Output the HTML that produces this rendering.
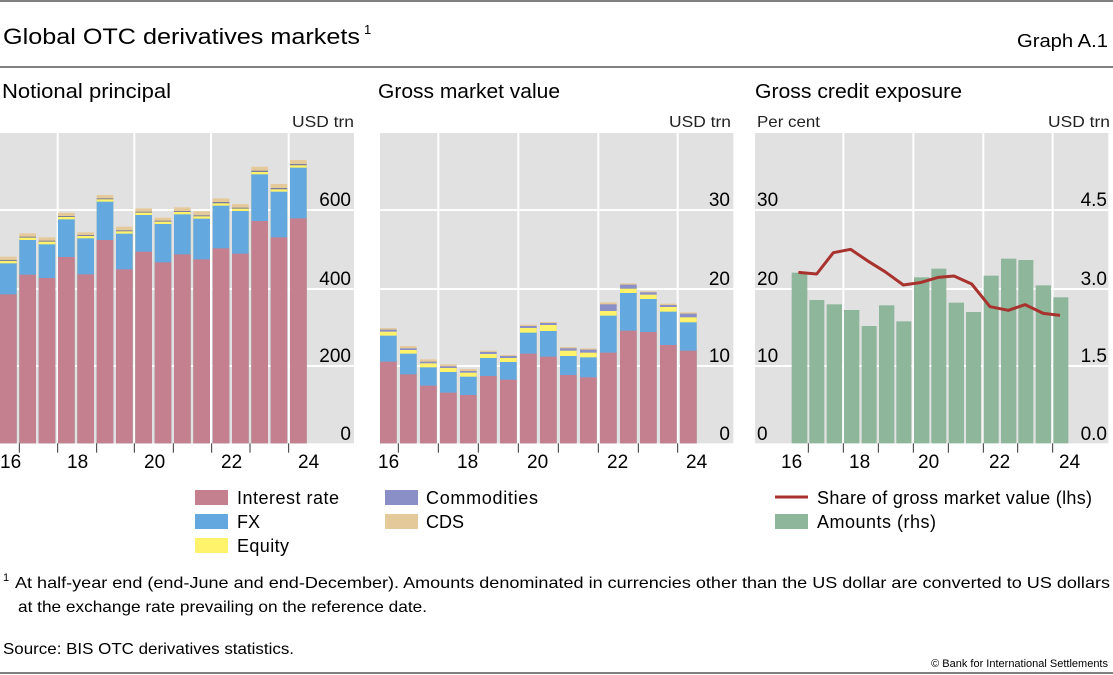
<!DOCTYPE html>
<html><head><meta charset="utf-8"><style>
body{margin:0;background:#fff;}
svg{display:block;font-family:"Liberation Sans","DejaVu Sans",sans-serif;}
</style></head><body>
<svg width="1113" height="675" viewBox="0 0 1113 675">
<line x1="0" y1="1" x2="1113" y2="1" stroke="#000" stroke-width="1"/>
<text x="3" y="44" font-size="22" fill="#000"><tspan textLength="357" lengthAdjust="spacingAndGlyphs">Global OTC derivatives markets</tspan><tspan font-size="13" dy="-10" dx="4">1</tspan></text>
<text x="1017" y="47" font-size="18" textLength="91" lengthAdjust="spacingAndGlyphs">Graph A.1</text>
<line x1="0" y1="67" x2="1113" y2="67" stroke="#000" stroke-width="1"/>
<text x="2" y="98" font-size="20" textLength="169" lengthAdjust="spacingAndGlyphs">Notional principal</text>
<text x="378" y="98" font-size="20" textLength="182" lengthAdjust="spacingAndGlyphs">Gross market value</text>
<text x="755" y="98" font-size="20" textLength="207" lengthAdjust="spacingAndGlyphs">Gross credit exposure</text>
<text x="292" y="127" font-size="16" fill="#222" textLength="62" lengthAdjust="spacingAndGlyphs">USD trn</text>
<text x="669" y="127" font-size="16" fill="#222" textLength="62" lengthAdjust="spacingAndGlyphs">USD trn</text>
<text x="757" y="127" font-size="16" fill="#222" textLength="63" lengthAdjust="spacingAndGlyphs">Per cent</text>
<text x="1048" y="127" font-size="16" fill="#222" textLength="62" lengthAdjust="spacingAndGlyphs">USD trn</text>

<!-- Panel 1 -->
<g transform="translate(0,130) scale(0.33333)">
<rect x="0" y="9" width="1062" height="931" fill="#e1e1e1"/>
<g stroke="#fff" stroke-width="6"><line x1="0" y1="240" x2="1062" y2="240"/><line x1="0" y1="477" x2="1062" y2="477"/><line x1="0" y1="708" x2="1062" y2="708"/>
<line x1="173" y1="9" x2="173" y2="940"/><line x1="403" y1="9" x2="403" y2="940"/><line x1="633" y1="9" x2="633" y2="940"/><line x1="866" y1="9" x2="866" y2="940"/></g>
<g fill="#e4c99a">
<rect x="0" y="380" width="50" height="560"/><rect x="58" y="310" width="50" height="630"/><rect x="116" y="322" width="50" height="618"/><rect x="174" y="248" width="50" height="692"/><rect x="232" y="307" width="50" height="633"/><rect x="290" y="195" width="50" height="745"/><rect x="348" y="290" width="50" height="650"/><rect x="406" y="235" width="50" height="705"/><rect x="464" y="263" width="50" height="677"/><rect x="522" y="232" width="50" height="708"/><rect x="580" y="244" width="50" height="696"/><rect x="638" y="205" width="50" height="735"/><rect x="696" y="222" width="50" height="718"/><rect x="754" y="110" width="50" height="830"/><rect x="812" y="162" width="50" height="778"/><rect x="870" y="90" width="50" height="850"/></g>
<g fill="#7b7f9e">
<rect x="0" y="390" width="50" height="550"/><rect x="58" y="320" width="50" height="620"/><rect x="116" y="332" width="50" height="608"/><rect x="174" y="258" width="50" height="682"/><rect x="232" y="315" width="50" height="625"/><rect x="290" y="205" width="50" height="735"/><rect x="348" y="301" width="50" height="639"/><rect x="406" y="245" width="50" height="695"/><rect x="464" y="272" width="50" height="668"/><rect x="522" y="243" width="50" height="697"/><rect x="580" y="256" width="50" height="684"/><rect x="638" y="216" width="50" height="724"/><rect x="696" y="233" width="50" height="707"/><rect x="754" y="122" width="50" height="818"/><rect x="812" y="174" width="50" height="766"/><rect x="870" y="102" width="50" height="838"/></g>
<g fill="#fff36b">
<rect x="0" y="393" width="50" height="547"/><rect x="58" y="323" width="50" height="617"/><rect x="116" y="335" width="50" height="605"/><rect x="174" y="261" width="50" height="679"/><rect x="232" y="318" width="50" height="622"/><rect x="290" y="208" width="50" height="732"/><rect x="348" y="304" width="50" height="636"/><rect x="406" y="248" width="50" height="692"/><rect x="464" y="275" width="50" height="665"/><rect x="522" y="246" width="50" height="694"/><rect x="580" y="259" width="50" height="681"/><rect x="638" y="220" width="50" height="720"/><rect x="696" y="236" width="50" height="704"/><rect x="754" y="126" width="50" height="814"/><rect x="812" y="178" width="50" height="762"/><rect x="870" y="106" width="50" height="834"/></g>
<g fill="#63a9e0">
<rect x="0" y="400" width="50" height="540"/><rect x="58" y="330" width="50" height="610"/><rect x="116" y="343" width="50" height="597"/><rect x="174" y="268" width="50" height="672"/><rect x="232" y="325" width="50" height="615"/><rect x="290" y="215" width="50" height="725"/><rect x="348" y="311" width="50" height="629"/><rect x="406" y="255" width="50" height="685"/><rect x="464" y="282" width="50" height="658"/><rect x="522" y="253" width="50" height="687"/><rect x="580" y="266" width="50" height="674"/><rect x="638" y="227" width="50" height="713"/><rect x="696" y="243" width="50" height="697"/><rect x="754" y="133" width="50" height="807"/><rect x="812" y="185" width="50" height="755"/><rect x="870" y="113" width="50" height="827"/></g>
<g fill="#c4808f">
<rect x="0" y="493" width="50" height="447"/><rect x="58" y="434" width="50" height="506"/><rect x="116" y="444" width="50" height="496"/><rect x="174" y="381" width="50" height="559"/><rect x="232" y="433" width="50" height="507"/><rect x="290" y="330" width="50" height="610"/><rect x="348" y="418" width="50" height="522"/><rect x="406" y="365" width="50" height="575"/><rect x="464" y="397" width="50" height="543"/><rect x="522" y="373" width="50" height="567"/><rect x="580" y="388" width="50" height="552"/><rect x="638" y="355" width="50" height="585"/><rect x="696" y="371" width="50" height="569"/><rect x="754" y="273" width="50" height="667"/><rect x="812" y="322" width="50" height="618"/><rect x="870" y="265" width="50" height="675"/></g>
<g stroke="#333" stroke-width="3"><line x1="58" y1="940" x2="58" y2="968"/><line x1="173" y1="940" x2="173" y2="968"/><line x1="290" y1="940" x2="290" y2="968"/><line x1="403" y1="940" x2="403" y2="968"/><line x1="520" y1="940" x2="520" y2="968"/><line x1="635" y1="940" x2="635" y2="968"/><line x1="750" y1="940" x2="750" y2="968"/><line x1="866" y1="940" x2="866" y2="968"/></g>
</g>
<g font-size="19" fill="#000" text-anchor="end">
<text x="351" y="206">600</text><text x="351" y="285">400</text><text x="351" y="362">200</text><text x="351" y="440">0</text></g>
<g font-size="19"><text x="0" y="468">16</text><text x="67" y="468">18</text><text x="144" y="468">20</text><text x="221" y="468">22</text><text x="298" y="468">24</text></g>

<!-- Panel 2 -->
<g transform="translate(375,130) scale(0.33333)">
<rect x="15" y="9" width="1060" height="931" fill="#e1e1e1"/>
<g stroke="#fff" stroke-width="6"><line x1="15" y1="240" x2="1075" y2="240"/><line x1="15" y1="477" x2="1075" y2="477"/><line x1="15" y1="708" x2="1075" y2="708"/>
<line x1="190" y1="9" x2="190" y2="940"/><line x1="430" y1="9" x2="430" y2="940"/><line x1="670" y1="9" x2="670" y2="940"/><line x1="908" y1="9" x2="908" y2="940"/></g>
<g fill="#e4c99a">
<rect x="15" y="594" width="50" height="346"/><rect x="75" y="648" width="50" height="292"/><rect x="135" y="688" width="50" height="252"/><rect x="195" y="703" width="50" height="237"/><rect x="255" y="717" width="50" height="223"/><rect x="315" y="662" width="50" height="278"/><rect x="375" y="675" width="50" height="265"/><rect x="435" y="584" width="50" height="356"/><rect x="495" y="576" width="50" height="364"/><rect x="555" y="651" width="50" height="289"/><rect x="615" y="655" width="50" height="285"/><rect x="675" y="517" width="50" height="423"/><rect x="735" y="460" width="50" height="480"/><rect x="795" y="484" width="50" height="456"/><rect x="855" y="521" width="50" height="419"/><rect x="915" y="547" width="50" height="393"/></g>
<g fill="#8a8fc8">
<rect x="15" y="599" width="50" height="341"/><rect x="75" y="655" width="50" height="285"/><rect x="135" y="695" width="50" height="245"/><rect x="195" y="709" width="50" height="231"/><rect x="255" y="723" width="50" height="217"/><rect x="315" y="666" width="50" height="274"/><rect x="375" y="678" width="50" height="262"/><rect x="435" y="588" width="50" height="352"/><rect x="495" y="579" width="50" height="361"/><rect x="555" y="655" width="50" height="285"/><rect x="615" y="659" width="50" height="281"/><rect x="675" y="523" width="50" height="417"/><rect x="735" y="464" width="50" height="476"/><rect x="795" y="487" width="50" height="453"/><rect x="855" y="525" width="50" height="415"/><rect x="915" y="551" width="50" height="389"/></g>
<g fill="#fff36b">
<rect x="15" y="605" width="50" height="335"/><rect x="75" y="660" width="50" height="280"/><rect x="135" y="700" width="50" height="240"/><rect x="195" y="714" width="50" height="226"/><rect x="255" y="728" width="50" height="212"/><rect x="315" y="672" width="50" height="268"/><rect x="375" y="684" width="50" height="256"/><rect x="435" y="594" width="50" height="346"/><rect x="495" y="585" width="50" height="355"/><rect x="555" y="662" width="50" height="278"/><rect x="615" y="668" width="50" height="272"/><rect x="675" y="543" width="50" height="397"/><rect x="735" y="476" width="50" height="464"/><rect x="795" y="494" width="50" height="446"/><rect x="855" y="531" width="50" height="409"/><rect x="915" y="562" width="50" height="378"/></g>
<g fill="#63a9e0">
<rect x="15" y="617" width="50" height="323"/><rect x="75" y="671" width="50" height="269"/><rect x="135" y="712" width="50" height="228"/><rect x="195" y="726" width="50" height="214"/><rect x="255" y="740" width="50" height="200"/><rect x="315" y="684" width="50" height="256"/><rect x="375" y="696" width="50" height="244"/><rect x="435" y="608" width="50" height="332"/><rect x="495" y="603" width="50" height="337"/><rect x="555" y="678" width="50" height="262"/><rect x="615" y="682" width="50" height="258"/><rect x="675" y="557" width="50" height="383"/><rect x="735" y="489" width="50" height="451"/><rect x="795" y="507" width="50" height="433"/><rect x="855" y="545" width="50" height="395"/><rect x="915" y="577" width="50" height="363"/></g>
<g fill="#c4808f">
<rect x="15" y="695" width="50" height="245"/><rect x="75" y="733" width="50" height="207"/><rect x="135" y="767" width="50" height="173"/><rect x="195" y="788" width="50" height="152"/><rect x="255" y="795" width="50" height="145"/><rect x="315" y="738" width="50" height="202"/><rect x="375" y="749" width="50" height="191"/><rect x="435" y="671" width="50" height="269"/><rect x="495" y="680" width="50" height="260"/><rect x="555" y="735" width="50" height="205"/><rect x="615" y="742" width="50" height="198"/><rect x="675" y="668" width="50" height="272"/><rect x="735" y="602" width="50" height="338"/><rect x="795" y="606" width="50" height="334"/><rect x="855" y="645" width="50" height="295"/><rect x="915" y="662" width="50" height="278"/></g>
<g stroke="#333" stroke-width="3"><line x1="70" y1="940" x2="70" y2="968"/><line x1="190" y1="940" x2="190" y2="968"/><line x1="310" y1="940" x2="310" y2="968"/><line x1="430" y1="940" x2="430" y2="968"/><line x1="550" y1="940" x2="550" y2="968"/><line x1="670" y1="940" x2="670" y2="968"/><line x1="790" y1="940" x2="790" y2="968"/><line x1="908" y1="940" x2="908" y2="968"/></g>
</g>
<g font-size="19" text-anchor="end"><text x="730" y="206">30</text><text x="730" y="285">20</text><text x="730" y="362">10</text><text x="730" y="440">0</text></g>
<g font-size="19"><text x="378" y="468">16</text><text x="457" y="468">18</text><text x="527" y="468">20</text><text x="607" y="468">22</text><text x="686" y="468">24</text></g>

<!-- Panel 3 -->
<g transform="translate(750,130) scale(0.33333)">
<rect x="15" y="9" width="1060" height="931" fill="#e1e1e1"/>
<g stroke="#fff" stroke-width="6"><line x1="15" y1="240" x2="1075" y2="240"/><line x1="15" y1="477" x2="1075" y2="477"/><line x1="15" y1="708" x2="1075" y2="708"/>
<line x1="280" y1="9" x2="280" y2="940"/><line x1="490" y1="9" x2="490" y2="940"/><line x1="700" y1="9" x2="700" y2="940"/><line x1="908" y1="9" x2="908" y2="940"/></g>
<g fill="#8db69b">
<rect x="125" y="428" width="47" height="512"/><rect x="178" y="510" width="45" height="430"/><rect x="230" y="523" width="46" height="417"/><rect x="282" y="540" width="46" height="400"/><rect x="335" y="588" width="45" height="352"/><rect x="387" y="526" width="46" height="414"/><rect x="439" y="574" width="45" height="366"/><rect x="492" y="442" width="46" height="498"/><rect x="544" y="416" width="45" height="524"/><rect x="596" y="518" width="46" height="422"/><rect x="648" y="546" width="45" height="394"/><rect x="701" y="437" width="45" height="503"/><rect x="753" y="386" width="46" height="554"/><rect x="805" y="390" width="45" height="550"/><rect x="857" y="466" width="46" height="474"/><rect x="910" y="502" width="45" height="438"/></g>
<polyline fill="none" stroke="#a8322d" stroke-width="9" stroke-linejoin="round" points="145,427 200,432 250,368 302,358 352,392 405,425 460,465 510,458 565,442 612,438 665,462 720,530 775,541 825,524 880,550 930,556"/>
<g stroke="#333" stroke-width="3"><line x1="175" y1="940" x2="175" y2="968"/><line x1="280" y1="940" x2="280" y2="968"/><line x1="385" y1="940" x2="385" y2="968"/><line x1="490" y1="940" x2="490" y2="968"/><line x1="595" y1="940" x2="595" y2="968"/><line x1="700" y1="940" x2="700" y2="968"/><line x1="803" y1="940" x2="803" y2="968"/><line x1="908" y1="940" x2="908" y2="968"/></g>
</g>
<g font-size="19"><text x="757" y="206">30</text><text x="757" y="285">20</text><text x="757" y="362">10</text><text x="757" y="440">0</text></g>
<g font-size="19" text-anchor="end"><text x="1107" y="206">4.5</text><text x="1107" y="285">3.0</text><text x="1107" y="362">1.5</text><text x="1107" y="440">0.0</text></g>
<g font-size="19"><text x="781" y="468">16</text><text x="849" y="468">18</text><text x="918" y="468">20</text><text x="989" y="468">22</text><text x="1059" y="468">24</text></g>

<!-- Legends -->
<g font-size="18" lengthAdjust="spacingAndGlyphs">
<rect x="195" y="490" width="33" height="15" fill="#c4808f"/><text x="237" y="504" textLength="102">Interest rate</text>
<rect x="195" y="514" width="33" height="15" fill="#63a9e0"/><text x="237" y="528">FX</text>
<rect x="195" y="538" width="33" height="15" fill="#fff36b"/><text x="237" y="552" textLength="52">Equity</text>
<rect x="385" y="490" width="33" height="15" fill="#8a8fc8"/><text x="426" y="504" textLength="112">Commodities</text>
<rect x="385" y="514" width="33" height="15" fill="#e4c99a"/><text x="426" y="528">CDS</text>
<line x1="775" y1="497" x2="808" y2="497" stroke="#a8322d" stroke-width="3"/><text x="817" y="504" textLength="275">Share of gross market value (lhs)</text>
<rect x="775" y="514" width="33" height="15" fill="#8db69b"/><text x="817" y="528" textLength="119">Amounts (rhs)</text>
</g>

<!-- Footnotes -->
<text x="3" y="581" font-size="11">1</text>
<text x="15" y="588" font-size="16" textLength="1095" lengthAdjust="spacingAndGlyphs">At half-year end (end-June and end-December). Amounts denominated in currencies other than the US dollar are converted to US dollars</text>
<text x="18" y="612" font-size="16" textLength="409" lengthAdjust="spacingAndGlyphs">at the exchange rate prevailing on the reference date.</text>
<text x="3" y="654" font-size="16" textLength="291" lengthAdjust="spacingAndGlyphs">Source: BIS OTC derivatives statistics.</text>
<text x="1108" y="667" font-size="11" text-anchor="end">© Bank for International Settlements</text>
<line x1="0" y1="673" x2="1113" y2="673" stroke="#000" stroke-width="1"/>
</svg>
</body></html>
